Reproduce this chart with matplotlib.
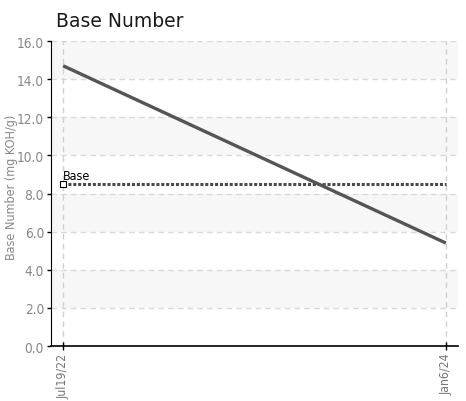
import matplotlib
matplotlib.use("Agg")
import matplotlib.pyplot as plt
import datetime as dt

# data
dates = [dt.datetime(2022, 7, 19), dt.datetime(2024, 1, 6)]
tick_labels = ["Jul19/22", "Jan6/24"]
bn_values = [14.7, 5.4]
base_value = 8.5

fig = plt.figure(figsize=(4.66, 4.02), dpi=100)
ax = fig.add_axes([0.1094, 0.1368, 0.8736, 0.7587])

pad = dt.timedelta(days=17)
ax.set_xlim(dates[0] - pad, dates[-1] + pad)
ax.set_ylim(0, 16)

cond = dict(family="DejaVu Sans", stretch="condensed")

# alternating bands
for lo in range(0, 16, 2):
    if (lo // 2) % 2 == 1:
        ax.axhspan(lo, lo + 2, color="#f7f7f7", zorder=0, lw=0)

for y in range(2, 17, 2):
    ax.axhline(y, color="#d9d9d9", lw=1, ls=(0, (4, 3)), zorder=1)
for d in dates:
    ax.axvline(d, color="#d0d0d0", lw=1, ls=(0, (4, 3)), zorder=1)

ax.plot(dates, [base_value, base_value], color="#4a4a4a", lw=2.2, ls=(0, (1, 0.6)), zorder=3)
ax.plot(dates[0], base_value, marker="s", ms=4, mfc="white", mec="black", mew=0.8, zorder=5)
ax.text(dates[0], base_value + 0.12, "Base", fontsize=9, color="black",
        ha="left", va="bottom", **cond)

ax.plot(dates, bn_values, color="#555555", lw=2.4, solid_capstyle="butt", zorder=4)

ax.set_xticks(dates)
ax.set_xticklabels(tick_labels, rotation=90, fontsize=8.8, color="#777777", **cond)
ax.set_yticks(range(0, 17, 2))
ax.set_yticklabels([f"{v:.1f}" for v in range(0, 17, 2)], fontsize=9.8, color="#888888", **cond)
ax.tick_params(axis="y", length=3, width=1, direction="out", pad=2)
ax.tick_params(axis="x", length=6, width=1, direction="inout", pad=2)

for s in ["top", "right"]:
    ax.spines[s].set_visible(False)
ax.spines["left"].set_color("black")
ax.spines["bottom"].set_color("black")
ax.spines["bottom"].set_linewidth(1.2)

fig.text(0.024, 0.535, "Base Number (mg KOH/g)", fontsize=9, color="#888888",
         rotation=90, ha="center", va="center", **cond)
fig.text(0.12, 0.947, "Base Number", fontsize=13.5, color="#1a1a1a", ha="left", va="center")

fig.savefig("out.png", dpi=100)
